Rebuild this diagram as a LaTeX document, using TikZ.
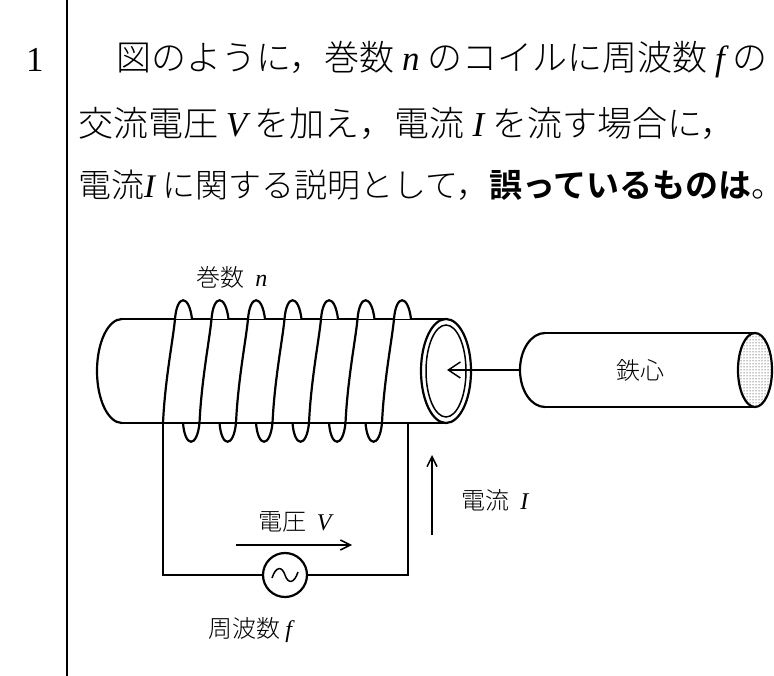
\documentclass[tikz,border=0pt]{standalone}
\usepackage{fontspec}
\setmainfont{Liberation Serif}
\newfontfamily\cjk{Noto Sans CJK JP Light}
\newfontfamily\cjkb{Noto Sans CJK JP Bold}
\newfontfamily\lat{Liberation Serif}
\newcommand{\mi}[1]{{\lat\itshape #1}}
\usetikzlibrary{arrows.meta,patterns}
\begin{document}
\begin{tikzpicture}[x=1pt,y=-1pt,line width=2.2pt,
  txt/.style={anchor=west,inner sep=0pt,font=\fontsize{35}{35}\selectfont\cjk},
  lbl/.style={inner sep=0pt,font=\fontsize{24}{24}\selectfont\cjk},
  thin/.style={line width=1.5pt}]
\useasboundingbox (0,0) rectangle (774,676);
\fill[white] (0,0) rectangle (774,676);
\draw[thin] (67,0) -- (67,676);
\node[txt] (num) at (25,60) {\lat 1};
\node[txt] (l1) at (115,60) {図のように，巻数 \mi{n} のコイルに周波数 \mi{f} の};
\node[txt] (l2) at (77,123) {交流電圧 \mi{V} を加え，電流 \mi{I} を流す場合に，};
\node[txt,font=\fontsize{33}{33}\selectfont\cjk] (l3) at (77,185) {電流\mi{I} に関する説明として，{\cjkb 誤っているものは}。};
% coil body
\draw (122,319) -- (446,319);
\draw (122,423) -- (446,423);
\draw (122,319) arc[start angle=270,end angle=90,x radius=25,y radius=52];
\draw (446,371) ellipse[x radius=25,y radius=52];
\draw[thin] (446,371) ellipse[x radius=20,y radius=46];
% turns
\foreach \i in {0,...,6}{
  \pgfmathsetmacro\xb{163+36.5*\i}
  \pgfmathsetmacro\xt{\xb+12}
  \fill[white] (\xt-1,319) .. controls (\xt+2,294) and (\xt+14,294) .. (\xt+17,319);
  \draw (\xb,423) .. controls (\xb+2,380) and (\xt-2,340) .. (\xt,319)
        .. controls (\xt+2,294) and (\xt+14,294) .. (\xt+17,319);
}
\foreach \i in {0,...,5}{
  \pgfmathsetmacro\xb{163+36.5*\i}
  \draw (\xb+20,423) .. controls (\xb+22,448) and (\xb+34,448) .. (\xb+36.5,423);
}
% core
\draw (545,333) -- (755,333);
\draw (545,407) -- (755,407);
\draw (545,333) arc[start angle=270,end angle=90,x radius=25,y radius=37];
\fill[pattern=dots] (755,370) ellipse[x radius=17,y radius=37];
\draw (755,370) ellipse[x radius=17,y radius=37];
\coordinate (cl) at (520,370);
\coordinate (ci) at (447,370);
\draw[thin,-{Straight Barb[length=12pt,width=16pt]}] (cl) -- (ci);
\node[lbl] (tetsu) at (640,370) {鉄心};
\node[lbl] (maki) at (232,277) {巻数\ \ \mi{n}};
% circuit
\node[draw,circle,minimum size=44pt,inner sep=0pt] (src) at (285,575) {};
\draw (163,423) -- (163,575) -- (src.west);
\draw (408,423) -- (408,575) -- (src.east);
\draw[thin] (272,578) .. controls (276,566) and (282,566) .. (285,575) .. controls (288,584) and (294,584) .. (298,572);
\coordinate (ia) at (432,535); \coordinate (ib) at (432,455);
\draw[thin,-{Straight Barb[length=10pt,width=10pt]}] (ia) -- (ib);
\node[lbl] (den) at (495,500) {電流\ \ \mi{I}};
\coordinate (va) at (236,545); \coordinate (vb) at (352,545);
\draw[thin,-{Straight Barb[length=10pt,width=10pt]}] (va) -- (vb);
\node[lbl] (volt) at (295,522) {電圧\ \ \mi{V}};
\node[lbl] (freq) at (250,630) {周波数\ \mi{f}};
\end{tikzpicture}
\end{document}
